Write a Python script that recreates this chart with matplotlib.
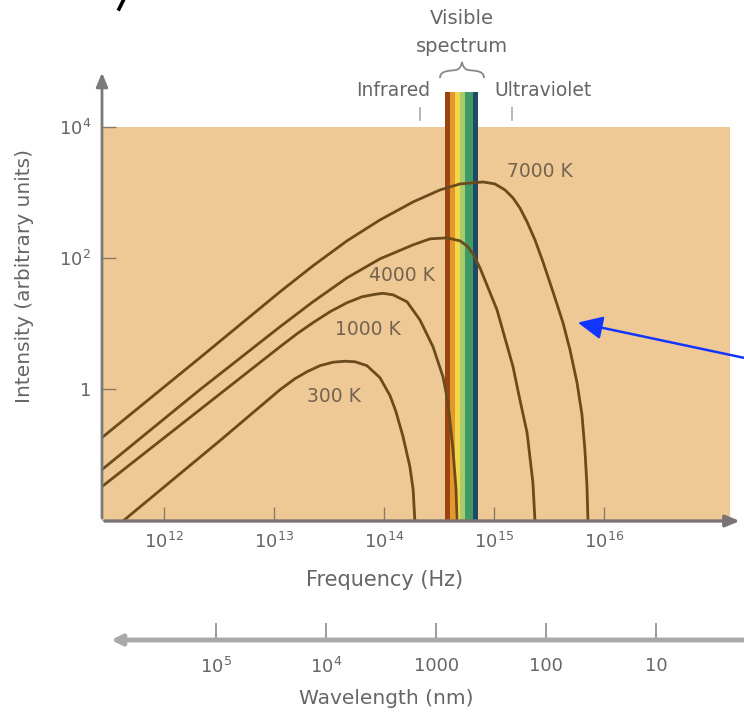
import matplotlib.pyplot as plt
from matplotlib.path import Path
from matplotlib.patches import PathPatch

# Curvas de cuerpo negro (frecuencia en Hz, intensidad arbitraria)
freq_7000 = [2.73e11, 2.12e12, 1.135e13, 2.26e13, 4.61e13, 9.2e13, 1.84e14, 3.23e14,
             4.91e14, 7.94e14, 1.02e15, 1.26e15, 1.49e15, 1.72e15, 2.0e15, 2.36e15,
             2.79e15, 3.44e15, 4.24e15, 4.91e15, 5.69e15, 6.31e15, 6.71e15, 7.0e15,
             7.16e15]
int_7000 = [0.179, 2.97, 30.3, 75.5, 182, 380, 716, 1091,
            1349, 1445, 1349, 1091, 824, 580, 355, 188,
            86.9, 30.3, 10.2, 3.94, 1.24, 0.401, 0.117, 0.0342,
            0.0095]

freq_4000 = [2.73e11, 2.12e12, 1.135e13, 2.26e13, 4.61e13, 9.2e13, 1.84e14, 2.62e14,
             3.74e14, 4.91e14, 5.69e14, 6.44e14, 7.46e14, 1.065e15, 1.49e15, 1.72e15,
             2.0e15, 2.26e15, 2.36e15]
int_4000 = [0.058, 0.966, 8.85, 21.3, 49.5, 96.6, 158, 195,
            202, 182, 152, 115, 70.3, 16.1, 2.17, 0.679,
            0.213, 0.0367, 0.0095]

freq_1000 = [2.73e11, 2.12e12, 1.135e13, 1.62e13, 2.26e13, 3.23e13, 4.61e13, 6.31e13,
             8.28e13, 9.8e13, 1.21e14, 1.62e14, 2.12e14, 2.79e14, 3.44e14, 3.82e14,
             4.24e14, 4.52e14, 4.61e14]
int_1000 = [0.0319, 0.478, 4.38, 6.92, 10.2, 15.0, 20.6, 25.4,
            27.7, 28.7, 27.2, 21.3, 11.3, 4.38, 1.52, 0.611,
            0.117, 0.0287, 0.0095]

freq_300 = [4.24e11, 3.23e12, 1.135e13, 1.55e13, 2.0e13, 2.62e13, 3.44e13, 4.42e13,
            5.45e13, 7.0e13, 9.2e13, 1.135e14, 1.285e14, 1.49e14, 1.72e14, 1.84e14,
            1.91e14]
int_300 = [0.0095, 0.161, 0.966, 1.42, 1.82, 2.25, 2.54, 2.63,
           2.58, 2.25, 1.47, 0.782, 0.446, 0.185, 0.0644, 0.0287,
           0.0095]

etiquetas = ["7000 K", "4000 K", "1000 K", "300 K"]
pos_etiquetas = [(2.62e15, 2056), (1.45e14, 54), (7.16e13, 8.0), (3.5e13, 0.755)]

# Franjas del espectro visible
franjas = [3.59e14, 3.98e14, 4.42e14, 4.91e14, 5.45e14, 6.44e14, 7.16e14]
colores_franjas = ["#9a4414", "#e6962a", "#f2d64c", "#a8cc6c", "#3f9a68", "#1f4a66"]

ticks_freq = [1e12, 1e13, 1e14, 1e15, 1e16]
labels_freq = ["$10^{12}$", "$10^{13}$", "$10^{14}$", "$10^{15}$", "$10^{16}$"]
ticks_int = [1, 100, 10000]
labels_int = ["1", "$10^2$", "$10^4$"]
ticks_onda = [1e5, 1e4, 1000, 100, 10]
labels_onda = ["$10^5$", "$10^4$", "1000", "100", "10"]

plt.rcParams['font.family'] = ['DejaVu Sans']
plt.rcParams['mathtext.fontset'] = 'dejavusans'

gris = "#666666"
cafe = "#6b4a1c"

W, H = 744, 712


def fx(x):
    return x / W


def fy(y):
    return 1 - y / H


fig = plt.figure(figsize=(7.44, 7.12), dpi=100)
ax = fig.add_axes([fx(102), fy(521), 628 / W, 394 / H])
ax.set_xscale("log")
ax.set_yscale("log")
ax.set_xlim(2.73e11, 1.40e17)
ax.set_ylim(0.0095, 1e4)
ax.set_facecolor("#eec995")
for s in ax.spines.values():
    s.set_visible(False)

# Banda visible (sobresale por arriba del area)
for i, c in enumerate(colores_franjas):
    ax.axvspan(franjas[i], franjas[i + 1], ymin=0, ymax=1.09, color=c,
               clip_on=False, zorder=1, lw=0)

for f, v in [(freq_7000, int_7000), (freq_4000, int_4000),
             (freq_1000, int_1000), (freq_300, int_300)]:
    ax.plot(f, v, color=cafe, lw=2.0, zorder=3, solid_joinstyle="round")

for t, (x, y) in zip(etiquetas, pos_etiquetas):
    ax.text(x, y, t, fontsize=13.5, color="#74634f", ha="center", va="center", zorder=4)

ax.set_xticks(ticks_freq)
ax.set_xticklabels(labels_freq)
ax.set_yticks(ticks_int)
ax.set_yticklabels(labels_int)
ax.minorticks_off()
ax.tick_params(axis="both", direction="in", length=10, width=1, color="#8a7a66",
               labelcolor=gris, labelsize=13)
ax.tick_params(axis="x", pad=8)
ax.tick_params(axis="y", pad=8)

# ejes con flecha
ax.annotate("", xy=(0, 1.145), xytext=(0, 0), xycoords="axes fraction",
            arrowprops=dict(arrowstyle="-|>,head_length=0.6,head_width=0.25",
                            color="#7a7a7a", lw=2, mutation_scale=14))
ax.annotate("", xy=(1.02, 0), xytext=(0, 0), xycoords="axes fraction",
            arrowprops=dict(arrowstyle="-|>,head_length=0.6,head_width=0.25",
                            color="#7a7474", lw=2.4, mutation_scale=14))

fig.text(fx(385), fy(580), "Frequency (Hz)", fontsize=15, color=gris,
         ha="center", va="center")
fig.text(fx(25), fy(276), "Intensity (arbitrary units)", rotation=90,
         fontsize=14.5, color=gris, ha="center", va="center")

# Eje de longitud de onda
ax2 = fig.add_axes([fx(102), fy(640), 628 / W, 0.01])
ax2.set_xscale("log")
ax2.set_xlim(3e17 / 2.73e11, 3e17 / 1.40e17)
ax2.set_yticks([])
ax2.patch.set_visible(False)
for s in ax2.spines.values():
    s.set_visible(False)
ax2.set_xticks(ticks_onda)
ax2.set_xticklabels(labels_onda)
ax2.minorticks_off()
ax2.tick_params(axis="x", direction="in", length=12, width=1.2, color="#8a8a8a",
                labelcolor=gris, labelsize=13, pad=12)
ax2.annotate("", xy=(0.01, 0), xytext=(1.03, 0), xycoords="axes fraction",
             arrowprops=dict(arrowstyle="-|>,head_length=0.5,head_width=0.25",
                             color="#a8a8a8", lw=3.5, mutation_scale=12))
fig.text(fx(386), fy(698), "Wavelength (nm)", fontsize=14.5, color=gris,
         ha="center", va="center")

# Rotulos del espectro visible
fig.text(fx(462), fy(18), "Visible", fontsize=14, color=gris, ha="center", va="center")
fig.text(fx(462), fy(46), "spectrum", fontsize=14, color=gris, ha="center", va="center")
fig.text(fx(393), fy(91), "Infrared", fontsize=13.5, color=gris, ha="center", va="center")
fig.text(fx(543), fy(91), "Ultraviolet", fontsize=13.5, color=gris, ha="center", va="center")

# llave sobre la banda visible
pts = [(440, 78), (440, 70), (450, 71), (456, 70), (460, 69), (461, 66), (462, 62),
       (463, 66), (464, 69), (468, 70), (474, 71), (484, 70), (484, 78)]
codes = [Path.MOVETO] + [Path.CURVE4] * 12
llave = Path([(fx(a), fy(b)) for a, b in pts], codes)
fig.add_artist(PathPatch(llave, transform=fig.transFigure, fc="none",
                         ec="#888888", lw=1.3))

for xp in [420, 512]:
    fig.add_artist(plt.Line2D([fx(xp), fx(xp)], [fy(108), fy(120)],
                              color="#aaaaaa", lw=1.2))

# Flecha azul
ax.annotate("", xy=(fx(575), fy(322)), xytext=(1.02, fy(361)),
            xycoords="figure fraction",
            arrowprops=dict(arrowstyle="-|>,head_length=0.75,head_width=0.35",
                            color="#1236ff", lw=1.8, mutation_scale=20))

# trazo negro cortado en la esquina superior
fig.add_artist(plt.Line2D([fx(124), fx(119)], [fy(-1), fy(9)], color="black", lw=2.6))

fig.savefig("out.png", dpi=100)
